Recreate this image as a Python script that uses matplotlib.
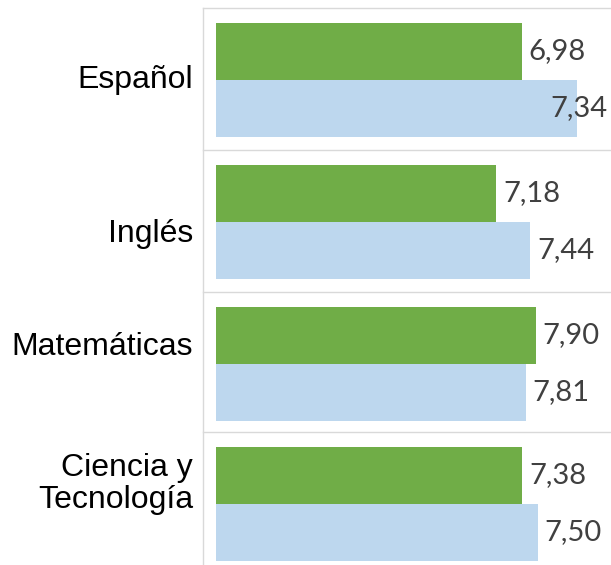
import matplotlib

matplotlib.use("Agg")
import matplotlib.pyplot as plt
from matplotlib.lines import Line2D

SUBJECTS = ["Español", "Inglés", "Matemáticas", "Ciencia y\nTecnología"]
GREEN_VALUES = [6.98, 7.18, 7.90, 7.38]
BLUE_VALUES = [7.34, 7.44, 7.81, 7.50]
AXIS_MIN = [5.0, 5.0, 5.0, 5.0]
AXIS_MAX = [7.5, 8.0, 8.5, 8.0]

GREEN = "#70AD47"
BLUE = "#BDD7EE"
FRAME = "#D9D9D9"
TEXT_GREY = "#404040"

W, H = 611, 565
DPI = 100

# panel bounds in pixels from the top
PANEL_TOPS = [8, 150, 292, 432]
PANEL_H = 142
PLOT_LEFT, PLOT_RIGHT = 216, 602
FRAME_LEFT = 203
LABEL_Y = [80, 234, 347, 484]


def fx(px):
    return px / W


def fy(py):
    return 1 - py / H


fig = plt.figure(figsize=(W / DPI, H / DPI), dpi=DPI)

for i, subject in enumerate(SUBJECTS):
    top = PANEL_TOPS[i]
    ax = fig.add_axes([fx(PLOT_LEFT), fy(top + PANEL_H), fx(PLOT_RIGHT) - fx(PLOT_LEFT), PANEL_H / H])
    ax.barh([0, 1], [GREEN_VALUES[i], BLUE_VALUES[i]], height=1.0, color=[GREEN, BLUE],
            left=0, linewidth=0)
    ax.set_xlim(AXIS_MIN[i], AXIS_MAX[i])
    ax.set_ylim(1.5 + 13 / 57, -0.5 - 15 / 57)
    ax.axis("off")

    for j, v in enumerate([GREEN_VALUES[i], BLUE_VALUES[i]]):
        t = ax.annotate(f"{v:.2f}".replace(".", ","), xy=(v, j), xytext=(5, 0),
                        textcoords="offset points", ha="left", va="center",
                        fontsize=21, color=TEXT_GREY, family=["Lato", "DejaVu Sans"],
                        annotation_clip=False)
        # keep labels inside the figure, as the original does
        fig.canvas.draw()
        bb = t.get_window_extent()
        if bb.x1 > W - 3:
            t.set_position((-(bb.x1 - (W - 4)) * 72 / DPI + 5, 0))

    fig.text(fx(193), fy(LABEL_Y[i]), subject, ha="right", va="center", fontsize=23,
             family=["Liberation Sans", "DejaVu Sans"], color="black", linespacing=1.1)

# chart frame lines
for top in PANEL_TOPS:
    fig.add_artist(Line2D([fx(FRAME_LEFT), 1], [fy(top), fy(top)], color=FRAME, lw=1.0))
fig.add_artist(Line2D([fx(FRAME_LEFT), fx(FRAME_LEFT)], [fy(PANEL_TOPS[0]), 0], color=FRAME, lw=1.0))

fig.savefig("out.png", dpi=DPI)
